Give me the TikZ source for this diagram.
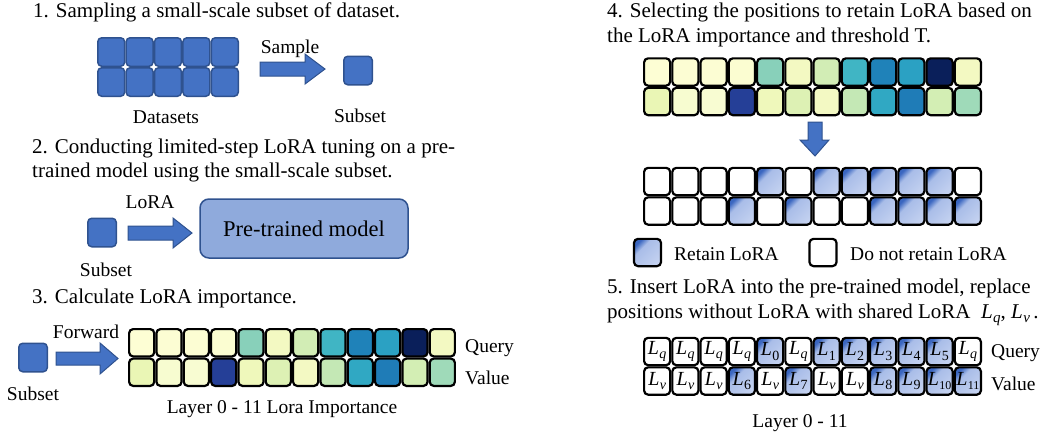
\RequirePackage{fix-cm}
\documentclass[tikz,border=0pt]{standalone}
\usepackage{fontspec}
\setmainfont{Liberation Serif}
\usetikzlibrary{shadings}
\newcommand\Lsub[2]{\textit{L}\kern0.4pt\raisebox{-0.22em}{\fontsize{#2}{#2}\selectfont #1}}
\definecolor{dblue}{HTML}{4472C4}
\definecolor{dedge}{HTML}{2F528F}
\definecolor{mblue}{HTML}{8FAADC}
\definecolor{rlight}{HTML}{A9BDE8}
\definecolor{rlight2}{HTML}{C3D1F0}
\definecolor{rdark}{HTML}{3A66C0}
\pgfdeclarehorizontalshading{retainshade}{100bp}{color(0bp)=(rdark); color(25bp)=(rdark); color(37bp)=(rlight); color(75bp)=(rlight2); color(100bp)=(rlight2)}
% query row
\definecolor{hq1}{HTML}{FDFED4}\definecolor{hq2}{HTML}{FCFDD3}\definecolor{hq3}{HTML}{FCFDD3}
\definecolor{hq4}{HTML}{FBFDD1}\definecolor{hq5}{HTML}{88D0BA}\definecolor{hq6}{HTML}{F3F9C2}
\definecolor{hq7}{HTML}{D2EDB5}\definecolor{hq8}{HTML}{40B5C4}\definecolor{hq9}{HTML}{1F82B9}
\definecolor{hq10}{HTML}{2BA1C3}\definecolor{hq11}{HTML}{0A1F5A}\definecolor{hq12}{HTML}{F3F9C2}
% value row
\definecolor{hv1}{HTML}{EAF6B5}\definecolor{hv2}{HTML}{F7FCD0}\definecolor{hv3}{HTML}{F8FCD2}
\definecolor{hv4}{HTML}{253F97}\definecolor{hv5}{HTML}{EFF8BB}\definecolor{hv6}{HTML}{DDF1B4}
\definecolor{hv7}{HTML}{F3F9C3}\definecolor{hv8}{HTML}{C4E8B5}\definecolor{hv9}{HTML}{30A8C3}
\definecolor{hv10}{HTML}{1F7CB7}\definecolor{hv11}{HTML}{D3EEB4}\definecolor{hv12}{HTML}{9FDAB9}
\begin{document}
\begin{tikzpicture}[x=1pt,y=-1pt,
  head/.style={font=\fontsize{21}{25}\selectfont, anchor=base west, inner sep=0pt},
  lab/.style={font=\fontsize{19.5}{23}\selectfont, anchor=base, inner sep=0pt},
  dcell/.style={draw=dedge, fill=dblue, line width=1.5pt, rounded corners=4pt,
     minimum width=26.9pt, minimum height=28.5pt, inner sep=0pt},
  hcell/.style={draw=black, line width=2.2pt, rounded corners=4pt,
     minimum height=27.3pt, inner sep=0pt},
  lcell/.style={hcell, minimum width=25.1pt},
  rcell/.style={hcell, minimum width=26.05pt, fill=white,
     font=\fontsize{20}{22}\selectfont},
  keep/.style={shading=retainshade, shading angle=-45},
  blockarrow/.style={draw=dedge, fill=dblue, line width=1pt, line join=miter},
  model/.style={draw=dedge, fill=mblue, line width=1.5pt, rounded corners=9pt,
     minimum width=208pt, minimum height=59pt, font=\fontsize{22.5}{26}\selectfont}]
\useasboundingbox (0,0) rectangle (1046,437);

% ---------- Step 1 ----------
\node[head] (h1) at (33,17) {1. Sampling a small-scale subset of dataset.};
\foreach \i in {1,...,5}{
  \node[dcell] (da\i) at ({97+(\i-0.5)*28.4},52) {};
  \node[dcell] (db\i) at ({97+(\i-0.5)*28.4},82) {};
}
\node[lab] (dlab) at (166,123) {Datasets};
\draw[blockarrow] (260,62) -- (305,62) -- (305,54) -- (325,69) -- (305,84) -- (305,76) -- (260,76) -- cycle;
\node[lab] (samp) at (290,53) {Sample};
\node[dcell, minimum width=28.5pt] (sub1) at (358,70.5) {};
\node[lab] (sub1l) at (360,122) {Subset};

% ---------- Step 2 ----------
\node[head] (h2a) at (32,153) {2. Conducting limited-step LoRA tuning on a pre-};
\node[head] (h2b) at (32,177) {trained model using the small-scale subset.};
\node[dcell, minimum width=28.5pt] (sub2) at (102,232.5) {};
\node[lab] (sub2l) at (106,276) {Subset};
\draw[blockarrow] (128,226) -- (173,226) -- (173,218) -- (192,233) -- (173,248) -- (173,240) -- (128,240) -- cycle;
\node[lab] (lora) at (150,208) {LoRA};
\node[model] (ptm) at (304,228.5) {Pre-trained model};

% ---------- Step 3 ----------
\node[head] (h3) at (32,303) {3. Calculate LoRA importance.};
\node[dcell, minimum width=28.5pt] (sub3) at (33,357.5) {};
\node[lab] (sub3l) at (33,400) {Subset};
\draw[blockarrow] (56,352) -- (100,352) -- (100,343) -- (118,358.5) -- (100,374) -- (100,365) -- (56,365) -- cycle;
\node[lab] (fwd) at (86,338) {Forward};
\foreach \i in {1,...,12}{
  \node[lcell, fill=hq\i] (a\i) at ({128+(\i-0.5)*27.33},342.75) {};
  \node[lcell, fill=hv\i] (b\i) at ({128+(\i-0.5)*27.33},372.25) {};
}
\node[lab, anchor=base west] (ql3) at (465,352) {Query};
\node[lab, anchor=base west] (vl3) at (465,384) {Value};
\node[lab] (imp) at (282,413) {Layer 0 - 11 Lora Importance};

% ---------- Step 4 ----------
\node[head] (h4a) at (607,17) {4. Selecting the positions to retain LoRA based on};
\node[head] (h4b) at (607,42) {the LoRA importance and threshold T.};
\foreach \i in {1,...,12}{
  \node[rcell, fill=hq\i] (c\i) at ({643+(\i-0.5)*28.25},72) {};
  \node[rcell, fill=hv\i] (d\i) at ({643+(\i-0.5)*28.25},101.5) {};
}
\draw[blockarrow] (808,122) -- (822,122) -- (822,140) -- (829,140) -- (815,156) -- (800,140) -- (808,140) -- cycle;
\foreach \i in {1,2,3,4,6,12}{
  \node[rcell] (e\i) at ({643+(\i-0.5)*28.25},181.5) {};
}
\foreach \i in {5,7,8,9,10,11}{
  \node[rcell, keep] (e\i) at ({643+(\i-0.5)*28.25},181.5) {};
}
\foreach \i in {1,2,3,5,7,8}{
  \node[rcell] (f\i) at ({643+(\i-0.5)*28.25},211) {};
}
\foreach \i in {4,6,9,10,11,12}{
  \node[rcell, keep] (f\i) at ({643+(\i-0.5)*28.25},211) {};
}
\node[rcell, keep, minimum width=27pt] (keepkey) at (647.5,252.5) {};
\node[lab, anchor=base west] (keeptxt) at (674,260) {Retain LoRA};
\node[rcell, minimum width=27pt] (nokey) at (823,252.5) {};
\node[lab, anchor=base west] (notxt) at (850,260) {Do not retain LoRA};

% ---------- Step 5 ----------
\node[head] (h5a) at (607,293) {5. Insert LoRA into the pre-trained model, replace};
\node[head] (h5b) at (607,318) {positions without LoRA with shared LoRA\enspace\Lsub{\textit{q}}{15}, \Lsub{\textit{v}}{15}\,.};
\foreach \i in {1,2,3,4,6,12}{
  \node[rcell] (g\i) at ({643+(\i-0.5)*28.25},351.5) {\Lsub{\textit{q}}{14}};
}
\foreach \i/\n in {5/0,7/1,8/2,9/3,10/4,11/5}{
  \node[rcell, keep] (g\i) at ({643+(\i-0.5)*28.25},351.5) {\Lsub{\n}{14}};
}
\foreach \i in {1,2,3,5,7,8}{
  \node[rcell] (k\i) at ({643+(\i-0.5)*28.25},381) {\Lsub{\textit{v}}{14}};
}
\foreach \i/\n in {4/6,6/7,9/8,10/9}{
  \node[rcell, keep] (k\i) at ({643+(\i-0.5)*28.25},381) {\Lsub{\n}{14}};
}
\foreach \i/\n in {11/10,12/11}{
  \node[rcell, keep] (k\i) at ({643+(\i-0.5)*28.25},381) {\Lsub{\n}{12}};
}
\node[lab, anchor=base west] (ql5) at (991,357) {Query};
\node[lab, anchor=base west] (vl5) at (991,390) {Value};
\node[lab] (lay5) at (800,427) {Layer 0 - 11};
\end{tikzpicture}
\end{document}
